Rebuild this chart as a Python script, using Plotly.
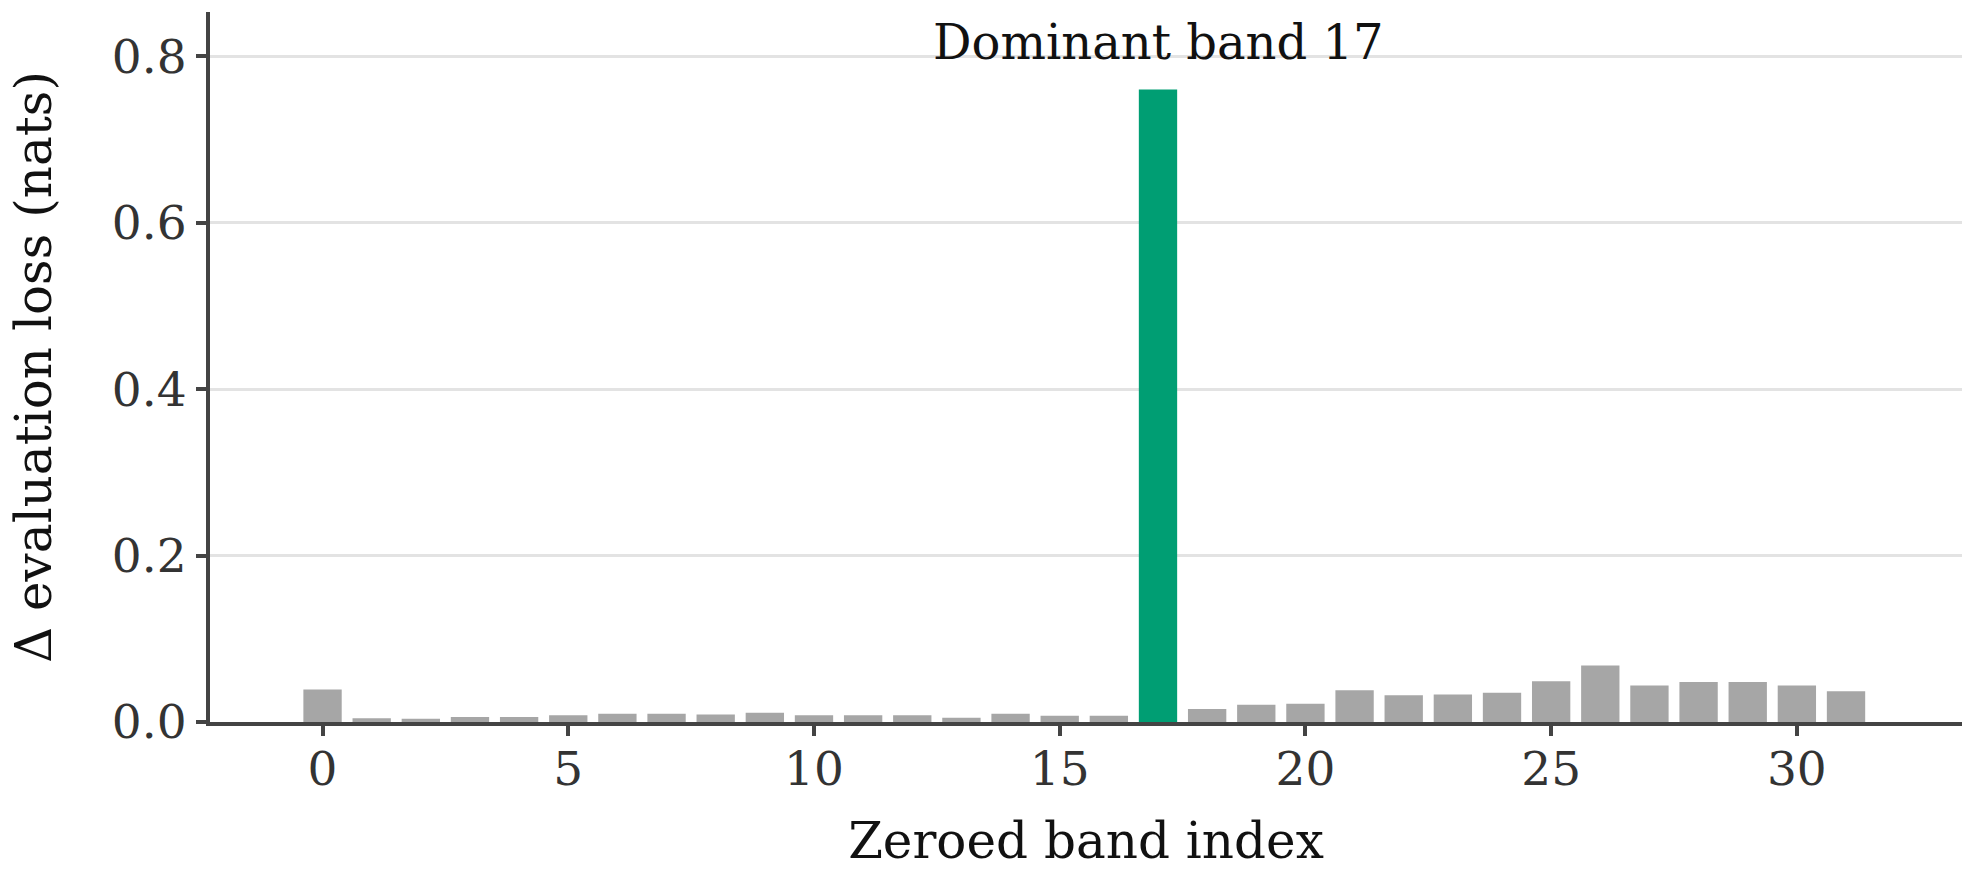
import plotly.graph_objects as go

bands = list(range(32))
delta_loss = [0.039, 0.0045, 0.004, 0.006, 0.006, 0.008, 0.010, 0.010, 0.009, 0.011,
              0.008, 0.008, 0.008, 0.005, 0.010, 0.0075, 0.0075, 0.760, 0.0155, 0.0206,
              0.0218, 0.038, 0.032, 0.033, 0.035, 0.049, 0.068, 0.044, 0.048, 0.048,
              0.044, 0.037]
dominant_band = 17
y_tick_vals = [0.0, 0.2, 0.4, 0.6, 0.8]
x_tick_vals = [0, 5, 10, 15, 20, 25, 30]

GRAY = "#a6a6a6"
GREEN = "#009e73"
AXIS = "#444444"
FONT = "DejaVu Serif"

colors = [GREEN if b == dominant_band else GRAY for b in bands]

fig = go.Figure()
fig.add_trace(go.Bar(x=bands, y=delta_loss, marker=dict(color=colors, line=dict(width=0)),
                     width=0.78, showlegend=False))

fig.add_annotation(x=dominant_band, y=0.817, text=f"Dominant band {dominant_band}",
                   showarrow=False, xanchor="center", yanchor="middle",
                   font=dict(family=FONT, size=48, color="#111111"))

fig.update_layout(
    width=1976, height=872,
    margin=dict(l=210, r=14, t=12, b=144),
    paper_bgcolor="white", plot_bgcolor="white",
    font=dict(family=FONT, color="#333333"),
)
fig.update_xaxes(
    range=[-2.29, 33.36], tickvals=x_tick_vals, showgrid=False, zeroline=False,
    showline=True, linecolor=AXIS, linewidth=4,
    ticks="outside", ticklen=10, tickwidth=4, tickcolor=AXIS,
    ticklabelstandoff=-7,
    tickfont=dict(family=FONT, size=47, color="#333333"),
    title=dict(text="Zeroed band index", font=dict(family=FONT, size=50, color="#111111"), standoff=29),
)
fig.update_yaxes(
    range=[0, 0.853], tickvals=y_tick_vals, tickformat=".1f",
    showgrid=True, gridcolor="#e3e3e3", gridwidth=2.5, zeroline=False,
    showline=True, linecolor=AXIS, linewidth=4,
    ticks="outside", ticklen=10, tickwidth=4, tickcolor=AXIS,
    tickfont=dict(family=FONT, size=47, color="#333333"),
    title=dict(text="Δ evaluation loss (nats)", font=dict(family=FONT, size=50, color="#111111"), standoff=45),
)

fig.write_html("out.html")
